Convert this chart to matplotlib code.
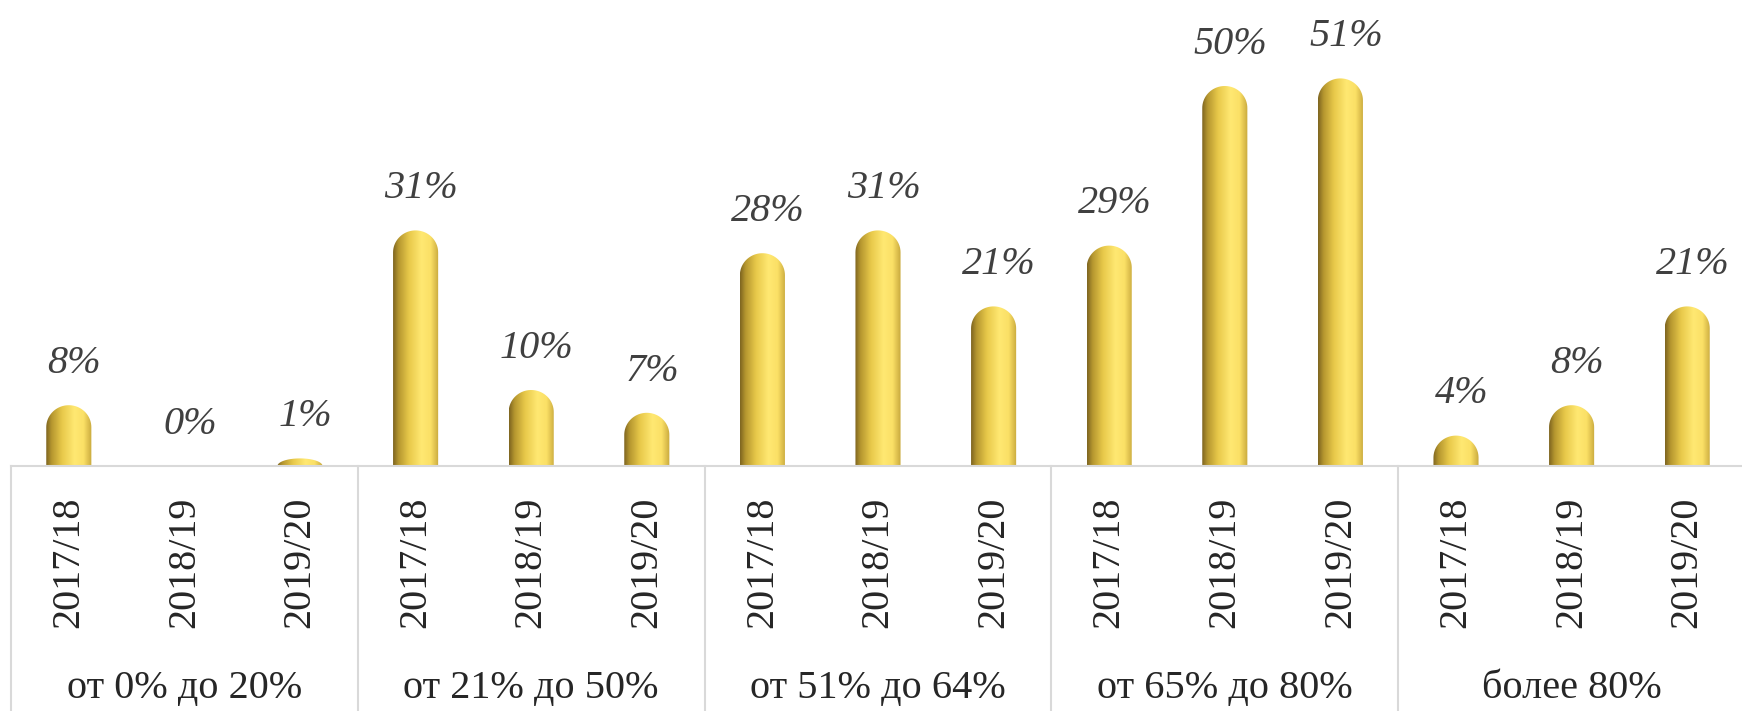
import numpy as np
import matplotlib
matplotlib.use("Agg")
import matplotlib.pyplot as plt
from matplotlib.path import Path
from matplotlib.patches import PathPatch
from matplotlib.colors import LinearSegmentedColormap
from matplotlib.lines import Line2D
from matplotlib import transforms

plt.rcParams['font.family'] = ['Liberation Serif', 'DejaVu Serif']

# data
groups = ["от 0% до 20%", "от 21% до 50%", "от 51% до 64%", "от 65% до 80%", "более 80%"]
years = ["2017/18", "2018/19", "2019/20"]
share_2017 = [8, 31, 28, 29, 4]
share_2018 = [0, 10, 31, 50, 8]
share_2019 = [1, 7, 21, 51, 21]

values = []
labels = []
for i in range(len(groups)):
    for y, s in zip(years, (share_2017, share_2018, share_2019)):
        values.append(s[i])
        labels.append(y)
xpos = np.arange(len(values))

fig = plt.figure(figsize=(17.42, 7.11), dpi=100)
ax = fig.add_axes([11 / 1742, (711 - 466) / 711, 1 - 11 / 1742, 466 / 711])

# cylinder-like shading, dark on the left, bright yellow to the right
cyl = LinearSegmentedColormap.from_list("cyl", [
    (0.0, "#7d6420"), (0.12, "#b5962f"), (0.35, "#e8c94a"),
    (0.62, "#ffe872"), (0.82, "#fbe066"), (1.0, "#c8a83c")])
grad = np.linspace(0, 1, 256).reshape(1, -1)

bar_w = 0.39
cap_ry = 2.9   # half-height of the rounded top, in data units

for x, v in zip(xpos, values):
    # value label
    ax.annotate(f"{v}%", xy=(x, v), xytext=(4, 30), textcoords="offset points",
                ha="center", va="center", fontsize=29, style="italic",
                color="#404040", annotation_clip=False)
    if v <= 0:
        continue
    ry = min(cap_ry, v)
    x0, x1 = x - bar_w / 2, x + bar_w / 2
    t = np.linspace(np.pi, 0, 40)
    top = [(x + bar_w / 2 * np.cos(a), v - ry + ry * np.sin(a)) for a in t]
    verts = [(x0, 0)] + top + [(x1, 0), (x0, 0)]
    codes = [Path.MOVETO] + [Path.LINETO] * (len(verts) - 2) + [Path.CLOSEPOLY]
    patch = PathPatch(Path(verts, codes), transform=ax.transData,
                      facecolor="none", edgecolor="none")
    ax.add_patch(patch)
    im = ax.imshow(grad, cmap=cyl, aspect="auto", extent=(x0, x1, 0, v),
                   interpolation="bilinear", zorder=2)
    im.set_clip_path(patch)

ax.set_xlim(-0.5, -0.5 + (1742 - 11) / 115.6)
ax.set_ylim(0, 466 / 7.6)

ax.set_xticks(xpos)
ax.set_xticklabels(labels, rotation=90, fontsize=29, color="#262626")
ax.tick_params(axis="x", length=0, pad=22)
ax.set_yticks([])
for s in ("top", "right", "left"):
    ax.spines[s].set_visible(False)
ax.spines["bottom"].set_color("#d9d9d9")
ax.spines["bottom"].set_linewidth(1.5)

# group separators below the baseline
trans = transforms.blended_transform_factory(ax.transData, fig.transFigure)
for sx in [-0.5, 2.5, 5.5, 8.5, 11.5]:
    fig.add_artist(Line2D([sx, sx], [0, (711 - 466) / 711], transform=trans,
                          color="#d9d9d9", lw=1.5))

for i, g in enumerate(groups):
    fig.text(3 * i + 1, (711 - 688) / 711, g, transform=trans, ha="center",
             va="center", fontsize=29, color="#262626")

fig.savefig("out.png", dpi=100)
